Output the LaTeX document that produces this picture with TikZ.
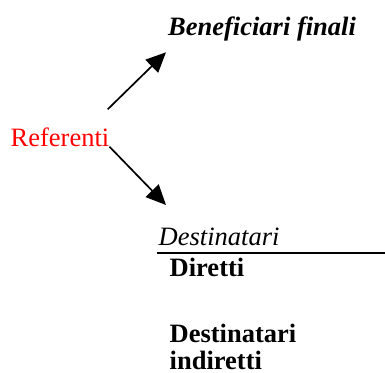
\documentclass[tikz,border=0pt]{standalone}
\usepackage{fontspec}
\setmainfont{Liberation Serif}
\usetikzlibrary{arrows.meta}

\begin{document}
\begin{tikzpicture} [x = 1pt, y = -1pt,
		label/.style = {inner sep = 0pt, anchor = base west, font = \fontsize{26.5}{26.6}\selectfont},
		link/.style = {line width = 1.7pt, -{Triangle[length = 20pt, width = 18pt]}}]
		\useasboundingbox (0,0) rectangle (385,372);
		\node [label, red] (ref) at (10.5,146.7) {Referenti};
		\node [label] (benef) at (168,35.7) {\textbf{\textit{Beneficiari finali}}};
		\node [label] (dest) at (158.5,245) {\textit{Destinatari}};
		\node [label] (dir) at (169.5,276.7) {\textbf{Diretti}};
		\node [label, align = left] (ind) at (169.5,369.3) {\textbf{Destinatari}\\\textbf{indiretti}};
		\coordinate (up) at (107.7,109.3);
		\coordinate (uptip) at (166,52.3);
		\coordinate (downtip) at (166,205);
		\draw [link] (up) -- (uptip);
		\draw [link] (ref.base east) -- (downtip);
		\draw [line width = 2pt] (156.7,253.3) -- (385,253.3);
	\end{tikzpicture}
\end{document}
